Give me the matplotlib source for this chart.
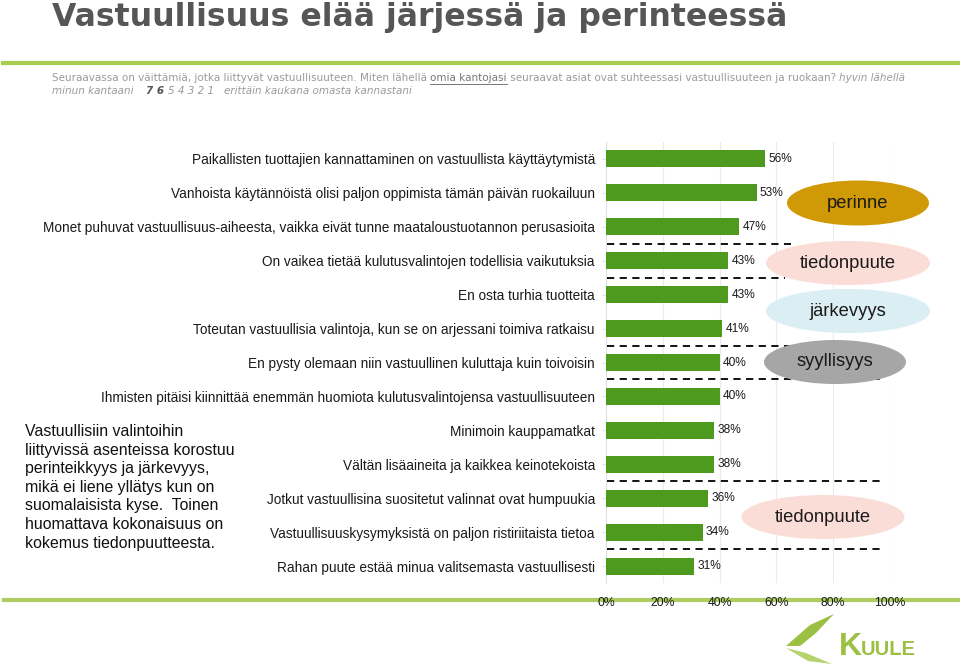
import matplotlib
matplotlib.use("Agg")
import matplotlib.pyplot as plt
from matplotlib.patches import Ellipse, Polygon
from matplotlib.lines import Line2D

plt.rcParams['font.family'] = ['Liberation Sans', 'DejaVu Sans']

# väittämät ja osuudet (%)
labels = [
    "Paikallisten tuottajien kannattaminen on vastuullista käyttäytymistä",
    "Vanhoista käytännöistä olisi paljon oppimista tämän päivän ruokailuun",
    "Monet puhuvat vastuullisuus-aiheesta, vaikka eivät tunne maataloustuotannon perusasioita",
    "On vaikea tietää kulutusvalintojen todellisia vaikutuksia",
    "En osta turhia tuotteita",
    "Toteutan vastuullisia valintoja, kun se on arjessani toimiva ratkaisu",
    "En pysty olemaan niin vastuullinen kuluttaja kuin toivoisin",
    "Ihmisten pitäisi kiinnittää enemmän huomiota kulutusvalintojensa vastuullisuuteen",
    "Minimoin kauppamatkat",
    "Vältän lisäaineita ja kaikkea keinotekoista",
    "Jotkut vastuullisina suositetut valinnat ovat humpuukia",
    "Vastuullisuuskysymyksistä on paljon ristiriitaista tietoa",
    "Rahan puute estää minua valitsemasta vastuullisesti",
]
values = [56, 53, 47, 43, 43, 41, 40, 40, 38, 38, 36, 34, 31]
x_ticks = [0, 20, 40, 60, 80, 100]
tick_labels = ["0%", "20%", "40%", "60%", "80%", "100%"]

# ryhmien väliset katkoviivat: (rivin raja, loppukohta %)
separators = [(2.5, 65), (3.5, 63), (5.5, 97), (6.5, 97), (9.5, 98), (11.5, 97)]

# ryhmien nimet: (teksti, keskipiste px, leveys px, korkeus px, väri)
groups = [
    ("perinne", (858, 203), 142, 45, "#D09A06"),
    ("tiedonpuute", (848, 263), 164, 44, "#FADDD7"),
    ("järkevyys", (848, 311), 164, 44, "#DAEEF3"),
    ("syyllisyys", (835, 362), 142, 44, "#A6A6A6"),
    ("tiedonpuute", (823, 517), 163, 44, "#FADDD7"),
]

W, H = 960, 671
fig = plt.figure(figsize=(W / 100, H / 100), dpi=100)
fig.patch.set_facecolor("white")


def fx(px):
    return px / W


def fy(py):
    return 1 - py / H


ax = fig.add_axes([fx(606), fy(583), fx(890) - fx(606), fy(142) - fy(583)])
ypos = list(range(len(labels)))
ax.barh(ypos, values, height=0.5, color="#4E9A1E", zorder=3)
ax.set_ylim(len(labels) - 0.5, -0.5)
ax.set_xlim(0, 100)
ax.set_yticks(ypos)
ax.set_yticklabels(labels, fontsize=9.8, color="#1a1a1a")
ax.set_xticks(x_ticks)
ax.set_xticklabels(tick_labels, fontsize=8.8, color="#1a1a1a")
ax.tick_params(axis="x", length=0, pad=10)
ax.tick_params(axis="y", length=3, color="#e2e2e2", pad=5)
ax.xaxis.grid(True, color="#ebebeb", lw=0.8, zorder=0)
for s in ["top", "right", "bottom"]:
    ax.spines[s].set_visible(False)
ax.spines["left"].set_color("#e2e2e2")

for y, v in zip(ypos, values):
    ax.text(v + 1.2, y, f"{v}%", va="center", ha="left", fontsize=8.6, color="#1a1a1a", zorder=4)

for yb, xe in separators:
    ax.plot([0.5, xe], [yb, yb], color="black", lw=1.3, ls=(0, (4, 3)), zorder=4, clip_on=False)

for name, (cx, cy), w, h, col in groups:
    fig.add_artist(Ellipse((fx(cx), fy(cy)), w / W, h / H, transform=fig.transFigure,
                           facecolor=col, edgecolor="none", zorder=5))
    fig.text(fx(cx), fy(cy), name, ha="center", va="center", fontsize=13.2, color="#1a1a1a", zorder=6)

# otsikko ja vihreät viivat
fig.text(fx(52), fy(26), "Vastuullisuus elää järjessä ja perinteessä", fontsize=22.7, weight="bold",
         color="#565656", va="baseline", ha="left", family=["DejaVu Sans"])
fig.add_artist(Line2D([fx(3), fx(960)], [fy(63), fy(63)], color="#A9CB4F", lw=3))
fig.add_artist(Line2D([fx(4), fx(960)], [fy(600), fy(600)], color="#AFCB62", lw=3, zorder=0))

# alaotsikko osissa
renderer = fig.canvas.get_renderer()
sub_color = "#9a9a9a"


def chain(parts, x0, y0):
    x = x0
    for txt, kw in parts:
        t = fig.text(fx(x), fy(y0), txt, fontsize=7.45, va="center", ha="left",
                     color=kw.get("color", sub_color), weight=kw.get("weight", "normal"),
                     style=kw.get("style", "normal"), family=["DejaVu Sans"])
        bb = t.get_window_extent(renderer)
        if kw.get("underline"):
            fig.add_artist(Line2D([fx(x), fx(x + bb.width)], [fy(y0 + 6), fy(y0 + 6)],
                                  color=kw.get("color", sub_color), lw=0.7))
        x += bb.width


chain([
    ("Seuraavassa on väittämiä, jotka liittyvät vastuullisuuteen. Miten lähellä ", {}),
    ("omia kantojasi", {"underline": True, "color": "#777777"}),
    (" seuraavat asiat ovat suhteessasi vastuullisuuteen ja ruokaan? ", {}),
    ("hyvin lähellä", {"style": "italic"}),
], 52, 78)
chain([
    ("minun kantaani    ", {"style": "italic"}),
    ("7 6 ", {"weight": "bold", "color": "#555555", "style": "italic"}),
    ("5 4 3 2 1   ", {"style": "italic"}),
    ("erittäin kaukana omasta kannastani", {"style": "italic"}),
], 52, 91)

# vasemman laidan kommentti
fig.text(fx(25), fy(424), "Vastuullisiin valintoihin\nliittyvissä asenteissa korostuu\n"
         "perinteikkyys ja järkevyys,\nmikä ei liene yllätys kun on\n"
         "suomalaisista kyse.  Toinen\nhuomattava kokonaisuus on\nkokemus tiedonpuutteesta.",
         fontsize=11.4, va="top", ha="left", color="#111111", linespacing=1.3)

# logo
logo_col = "#9CC043"
fig.add_artist(Polygon([(fx(786), fy(646)), (fx(810), fy(625)), (fx(834), fy(614)),
                        (fx(816), fy(633)), (fx(800), fy(646))], closed=True,
                       transform=fig.transFigure, facecolor=logo_col, edgecolor="none"))
fig.add_artist(Polygon([(fx(786), fy(648)), (fx(806), fy(653)), (fx(832), fy(664)),
                        (fx(808), fy(661))], closed=True,
                       transform=fig.transFigure, facecolor="#B7D36E", edgecolor="none"))
fig.text(fx(839), fy(655), "K", fontsize=23, weight="bold", color=logo_col, va="baseline", ha="left")
fig.text(fx(861), fy(655), "UULE", fontsize=14.5, weight="bold", color=logo_col, va="baseline", ha="left")

fig.savefig("out.png", dpi=100)
